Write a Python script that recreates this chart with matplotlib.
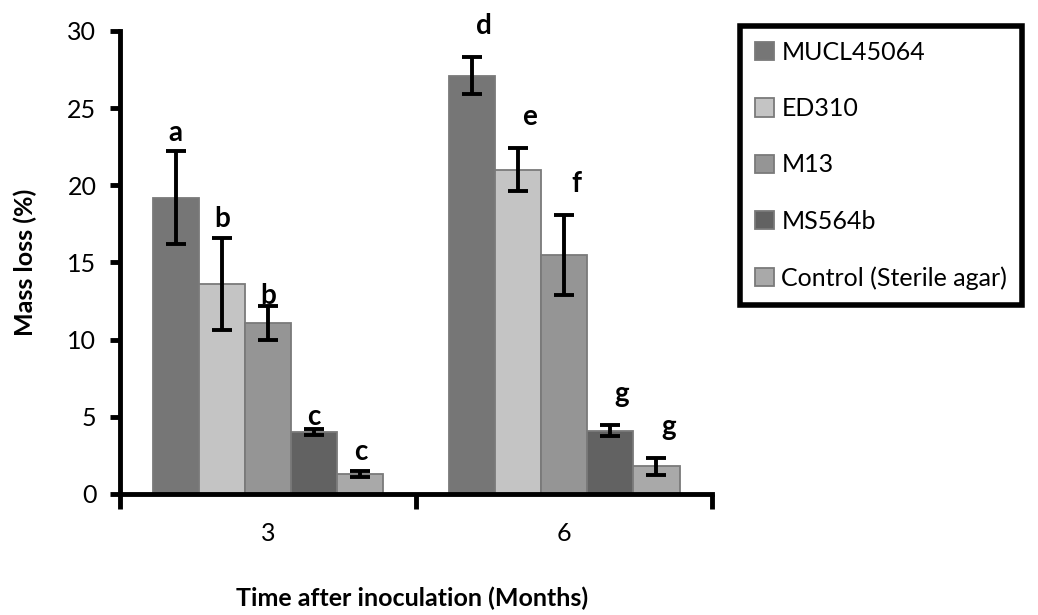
import matplotlib
matplotlib.use('Agg')
import numpy as np
import matplotlib.pyplot as plt

plt.rcParams['font.family'] = ['Lato', 'DejaVu Sans']

months = ['3', '6']
series = ['MUCL45064', 'ED310', 'M13', 'MS564b', 'Control (Sterile agar)']
colors = ['#767676', '#c4c4c4', '#959595', '#626262', '#a9a9a9']

mucl = [19.2, 27.1]
ed310 = [13.6, 21.0]
m13 = [11.1, 15.5]
ms564b = [4.0, 4.1]
control = [1.3, 1.8]

mucl_err = [3.0, 1.2]
ed310_err = [3.0, 1.4]
m13_err = [1.1, 2.6]
ms564b_err = [0.2, 0.35]
control_err = [0.2, 0.55]

letters_3 = ['a', 'b', 'b', 'c', 'c']
letters_6 = ['d', 'e', 'f', 'g', 'g']

values = [mucl, ed310, m13, ms564b, control]
errors = [mucl_err, ed310_err, m13_err, ms564b_err, control_err]

fig = plt.figure(figsize=(10.38, 6.15), dpi=100)
ax = fig.add_axes([0.1156, 0.197, 0.5704, 0.7526])

index = np.arange(len(months))
bar_width = 0.156
for i, name in enumerate(series):
    pos = index + (i - 2) * bar_width
    ax.bar(pos, values[i], bar_width, color=colors[i], edgecolor='#7a7a7a',
           linewidth=1.3, label=name)
    ax.errorbar(pos, values[i], yerr=errors[i], fmt='none', ecolor='black',
                elinewidth=2.8, capsize=7, capthick=2.8)
    for j in range(len(months)):
        top = values[i][j] + errors[i][j]
        letter = letters_3[i] if j == 0 else letters_6[i]
        if j == 0:
            pad = 0.6 if i == 2 else (0.75 if i == 3 else 1.2)
            dx = 0.0
        else:
            pad = 2.0
            dx = 0.04
        ax.text(pos[j] + dx, top + pad, letter, ha='center', va='center',
                fontsize=20, fontweight='bold')

ax.set_xlim(-0.5, 1.5)
ax.set_ylim(0, 30)
ax.set_yticks([0, 5, 10, 15, 20, 25, 30])
ax.set_xticks([-0.5, 0.5, 1.5])
ax.set_xticklabels([])
ax.set_xticks(index, minor=True)
ax.set_xticklabels(months, minor=True)
ax.tick_params(axis='x', which='major', length=11, width=3.5, direction='out')
ax.tick_params(axis='x', which='minor', length=0, pad=20, labelsize=18)
ax.tick_params(axis='y', length=7, width=3.5, direction='out', labelsize=18, pad=10)

for side in ['top', 'right']:
    ax.spines[side].set_visible(False)
for side in ['left', 'bottom']:
    ax.spines[side].set_linewidth(3.5)

ax.set_ylabel('Mass loss (%)', fontsize=18, fontweight='bold', labelpad=22)
fig.text(412 / 1038, 1 - 598 / 615, 'Time after inoculation (Months)', ha='center',
         va='center', fontsize=18, fontweight='bold')

leg = fig.legend(loc='upper left', bbox_to_anchor=(740 / 1038, 1 - 26 / 615),
                 fontsize=18, frameon=True, fancybox=False, edgecolor='black',
                 framealpha=1, labelspacing=1.33, handlelength=0.75,
                 handleheight=0.75, handletextpad=0.3, borderpad=0.6,
                 borderaxespad=0)
leg.get_frame().set_linewidth(4)

fig.savefig('out.png', dpi=100)
